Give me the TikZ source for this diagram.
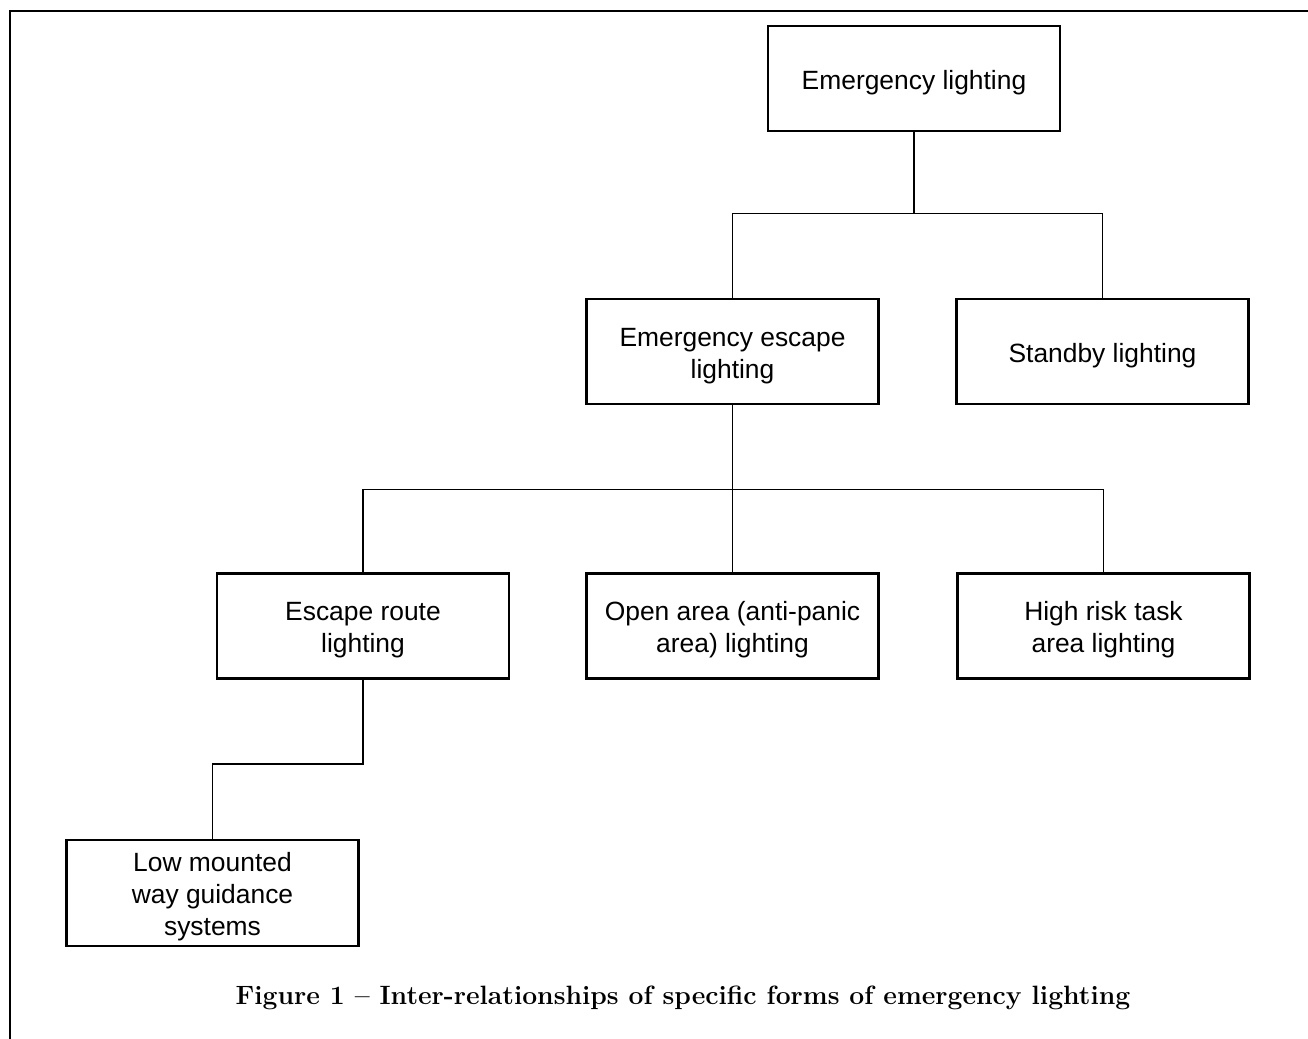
\documentclass[tikz,border=0pt]{standalone}
\usepackage{fontspec}
\setsansfont{Liberation Sans}
\usepackage{tikz}
\usetikzlibrary{positioning}
\newcommand{\topstrut}{\rule{0pt}{13.6pt}}
\tikzset{
    kind/.style={
           rectangle,
           draw=black, line width=1.4pt,
           minimum width=146pt,
           minimum height=52.5pt,
           inner sep=2pt,
           align=center,
           font=\sffamily\fontsize{13.2}{16}\selectfont,
           },
    link/.style={
           draw=black, line width=0.7pt,
           },
}

\begin{document}
\begin{tikzpicture}

 % page and frame lines (top and left only)
 \useasboundingbox (0,0) rectangle (654pt,-519.5pt);
 \draw[line width=1pt] (5pt,-519.5pt) -- (5pt,-5.5pt) -- (654pt,-5.5pt);

 % top of the tree
 \node[kind] (LIGHT) at (457pt,-39.25pt) {\topstrut Emergency lighting};

 % second row
 \node[kind,
 below of=LIGHT,
 node distance=136.5pt,
 xshift=-90.75pt] (ESCAPE)
 {\topstrut Emergency escape\\lighting};

 \node[kind,
 right of=ESCAPE,
 node distance=185pt] (STANDBY)
 {\topstrut Standby lighting};

 % third row
 \node[kind,
 below of=ESCAPE,
 node distance=137.25pt,
 xshift=-184.75pt] (ROUTE)
 {\topstrut Escape route\\lighting};

 \node[kind,
 below of=ESCAPE,
 node distance=137.25pt] (OPEN)
 {\topstrut Open area (anti-panic\\area) lighting};

 \node[kind,
 right of=OPEN,
 node distance=185.5pt] (RISK)
 {\topstrut High risk task\\area lighting};

 % last row
 \node[kind,
 below of=ROUTE,
 node distance=133.5pt,
 xshift=-75.25pt,
 minimum height=53pt] (LOWWAY)
 {\topstrut Low mounted\\way guidance\\systems};

 % the connectors
 \draw[link] (LIGHT.south) -- ++(0,-40.5pt) coordinate (J1);
 \draw[link] (ESCAPE.north) |- (J1) -| (STANDBY.north);

 \draw[link] (ESCAPE.south) -- (OPEN.north);
 \path (ESCAPE.south) ++(0,-42pt) coordinate (J2);
 \draw[link] (ROUTE.north) |- (J2) -| (RISK.north);

 \draw[link] (ROUTE.south) -- ++(0,-42pt) -| (LOWWAY.north);

 % caption
 \node[font=\bfseries\fontsize{13.25}{15}\selectfont] (CAPTION) at (341.5pt,-499pt)
 {Figure 1 -- Inter-relationships of specific forms of emergency lighting};
\end{tikzpicture}
\end{document}
